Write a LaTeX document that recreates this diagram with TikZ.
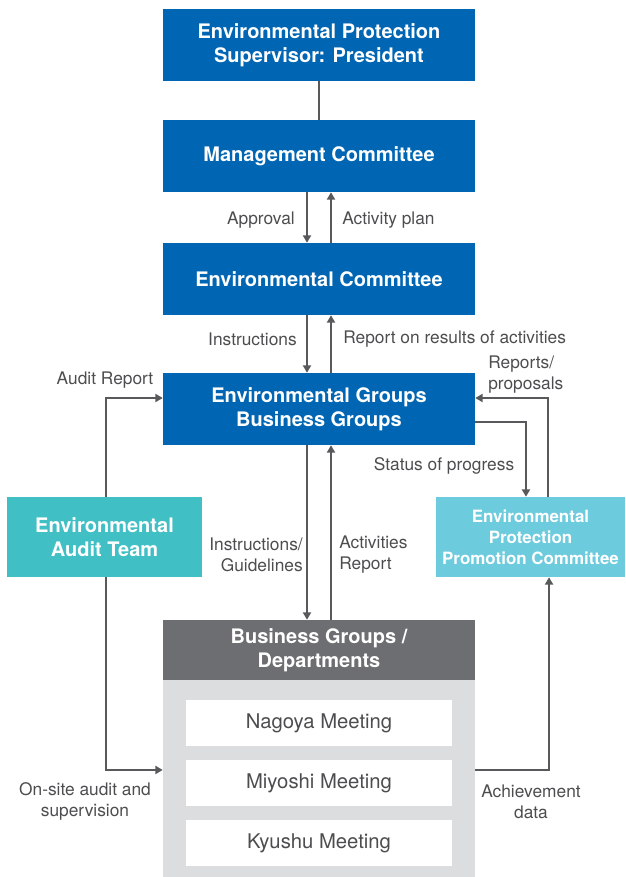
\documentclass[tikz,border=0pt]{standalone}
\usepackage{fontspec}
\setmainfont{TeX Gyre Heros}
\usetikzlibrary{arrows.meta}
\definecolor{envblue}{HTML}{0066B3}
\definecolor{auditteal}{HTML}{40BFC5}
\definecolor{promocyan}{HTML}{6CCBDD}
\definecolor{deptgray}{HTML}{6D6E71}
\definecolor{bodygray}{HTML}{DCDDDE}
\definecolor{linegray}{HTML}{58595B}
\definecolor{labelgray}{HTML}{4D4D4F}

\tikzset{
  box/.style={fill=envblue, text=white, align=center, inner sep=0pt,
    font=\fontsize{15}{18}\selectfont\bfseries,
    minimum width=234pt, minimum height=54pt},
  meeting/.style={fill=white, text=labelgray, inner sep=0pt,
    font=\fontsize{15.2}{18}\selectfont,
    minimum width=199.5pt, minimum height=34.5pt},
  lbl/.style={text=labelgray, inner sep=0pt,
    font=\fontsize{13}{15.75}\selectfont},
  conn/.style={draw=linegray, line width=1.4pt},
  arr/.style={conn, -{Triangle[length=5.5pt,width=6pt]}}
}

\begin{document}
\begin{tikzpicture}[x=0.75pt,y=-0.75pt]
\useasboundingbox (0,0) rectangle (625,877);

% main chain
\node[box] (pres) at (319,45) {Environmental Protection\\Supervisor: President};
\node[box] (mgmt) at (319,156) {Management Committee};
\node[box] (envc) at (319,279) {Environmental Committee};
\node[box] (groups) at (319,409) {Environmental Groups\\Business Groups};

% side boxes
\node[box, fill=auditteal, minimum width=146.25pt, minimum height=60pt]
  (audit) at (104.5,537) {Environmental\\Audit Team};
\node[box, fill=promocyan, minimum width=141.75pt, minimum height=60pt,
  font=\fontsize{12.7}{15.75}\selectfont\bfseries]
  (promo) at (530.5,537) {Environmental\\Protection\\Promotion Committee};

% business groups / departments
\node[fill=bodygray, inner sep=0pt, minimum width=234pt, minimum height=147.75pt]
  (body) at (319,778.5) {};
\node[box, fill=deptgray, minimum height=45pt] (dept) at (319,650)
  {Business Groups /\\Departments};
\node[meeting] (nagoya) at (319,723) {Nagoya Meeting};
\node[meeting] (miyoshi) at (319,783) {Miyoshi Meeting};
\node[meeting] (kyushu) at (319,843) {Kyushu Meeting};

% connectors
\draw[conn] (pres) -- (mgmt);
\draw[arr] ([xshift=-9pt]mgmt.south) -- ([xshift=-9pt]envc.north);
\draw[arr] ([xshift=9pt]envc.north) -- ([xshift=9pt]mgmt.south);
\draw[arr] ([xshift=-9pt]envc.south) -- ([xshift=-9pt]groups.north);
\draw[arr] ([xshift=9pt]groups.north) -- ([xshift=9pt]envc.south);
\draw[arr] ([xshift=-9pt]groups.south) -- ([xshift=-9pt]dept.north);
\draw[arr] ([xshift=9pt]dept.north) -- ([xshift=9pt]groups.south);

\draw[arr] ([xshift=1pt]audit.north) |- ([yshift=8.25pt]groups.west);
\draw[arr] ([xshift=1pt]audit.south) |- ([yshift=6.4pt]body.west);
\draw[arr] ([xshift=13pt]promo.north) |- ([yshift=8.25pt]groups.east);
\draw[arr] ([yshift=-9.75pt]groups.east) -| ([xshift=-3.4pt]promo.north);
\draw[arr] ([yshift=6.4pt]body.east) -| ([xshift=13.9pt]promo.south);

% labels
\node[lbl, anchor=east] (approval) at (295,220) {Approval};
\node[lbl, anchor=west] (plan) at (342,220) {Activity plan};
\node[lbl, anchor=east] (instr) at (297,339) {Instructions};
\node[lbl, anchor=west] (results) at (343,339) {Report on results of activities};
\node[lbl] (auditrep) at (105,380) {Audit Report};
\node[lbl, anchor=west, align=left] (proposals) at (488,375) {Reports/\\proposals};
\node[lbl] (status) at (444,466) {Status of progress};
\node[lbl, anchor=east, align=right] (guide) at (303,555) {Instructions/\\Guidelines};
\node[lbl, anchor=west, align=left] (actrep) at (339,555) {Activities\\Report};
\node[lbl, align=center] (onsite) at (85,801) {On-site audit and\\supervision};
\node[lbl, align=center] (achieve) at (531,802) {Achievement\\data};
\end{tikzpicture}
\end{document}
